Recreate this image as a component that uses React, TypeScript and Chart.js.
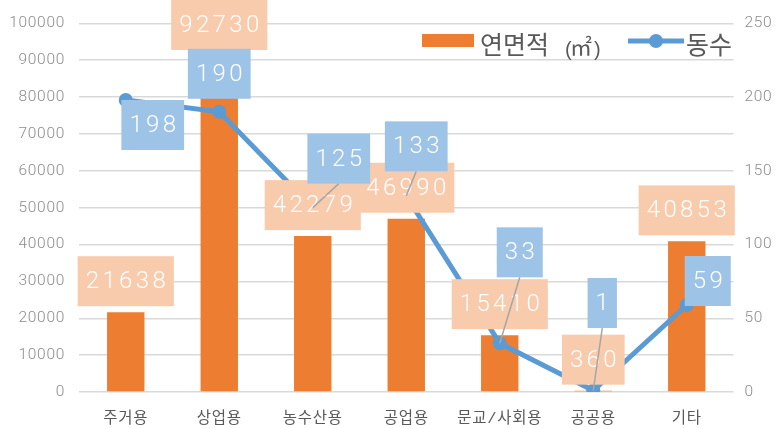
import React, { useEffect, useRef } from "react";
import { Chart, registerables } from "chart.js";

Chart.register(...registerables);

const categories = ["주거용", "상업용", "농수산용", "공업용", "문교/사회용", "공공용", "기타"];
const floorArea = [21638, 92730, 42279, 46990, 15410, 360, 40853];
const buildingCount = [198, 190, 125, 133, 33, 1, 59];
const areaLabel = "연면적";
const areaUnit = "㎡";
const countLabel = "동수";

// label box offsets (px) from each line point, and whether a leader line is drawn
const countLabelOffsets = [
  [27, 25],
  [0, -38],
  [26, -49],
  [10, -49.5],
  [20, -91],
  [9, -87.5],
  [21, -24],
];
const countLeaders = [false, false, true, true, true, true, false];

const ORANGE = "#ED7D31";
const BLUE = "#5B9BD5";
const ORANGE_LIGHT = "#F8CBAD";
const BLUE_LIGHT = "#9DC3E6";
const NUM = "Roboto, 'Noto Sans CJK KR'";
const KR = "'Noto Sans CJK KR', 'Noto Sans'";
const LABEL_SPACING = 3.4;

const labelPlugin = {
  id: "customLabels",
  beforeDraw(chart: any) {
    (chart.ctx as any).letterSpacing = "0.7px";
  },
  beforeDatasetsDraw(chart: any) {
    (chart.ctx as any).letterSpacing = "0px";
  },
  afterDatasetsDraw(chart: any) {
    const ctx = chart.ctx as CanvasRenderingContext2D;
    const barMeta = chart.getDatasetMeta(0);
    const lineMeta = chart.getDatasetMeta(1);
    const h = 50;
    ctx.save();
    ctx.font = `300 24px ${NUM}`;
    (ctx as any).letterSpacing = LABEL_SPACING + "px";
    ctx.textAlign = "center";
    ctx.textBaseline = "middle";
    const boxW = (t: string) => ctx.measureText(t).width - LABEL_SPACING + 16;
    // bar labels
    barMeta.data.forEach((el: any, i: number) => {
      const text = String(floorArea[i]);
      const w = boxW(text);
      let cy = el.y - 6 - h / 2;
      if (cy - h / 2 < 0) cy = h / 2;
      ctx.fillStyle = ORANGE_LIGHT;
      ctx.fillRect(el.x - w / 2, cy - h / 2, w, h);
      ctx.fillStyle = "#FFFFFF";
      ctx.fillText(text, el.x + LABEL_SPACING / 2, cy + 1);
    });
    // leader lines
    ctx.strokeStyle = "#A6A6A6";
    ctx.lineWidth = 1.5;
    lineMeta.data.forEach((el: any, i: number) => {
      if (!countLeaders[i]) return;
      const [dx, dy] = countLabelOffsets[i];
      ctx.beginPath();
      ctx.moveTo(el.x + dx, el.y + dy + h / 2);
      ctx.lineTo(el.x, el.y);
      ctx.stroke();
    });
    // line labels
    lineMeta.data.forEach((el: any, i: number) => {
      const text = String(buildingCount[i]);
      const w = boxW(text);
      const [dx, dy] = countLabelOffsets[i];
      const cx = el.x + dx;
      const cy = el.y + dy;
      ctx.fillStyle = BLUE_LIGHT;
      ctx.fillRect(cx - w / 2, cy - h / 2, w, h);
      ctx.fillStyle = "#FFFFFF";
      ctx.fillText(text, cx + LABEL_SPACING / 2, cy + 1);
    });
    ctx.restore();
  },
  afterDraw(chart: any) {
    const ctx = chart.ctx as CanvasRenderingContext2D;
    ctx.save();
    (ctx as any).letterSpacing = "0px";
    // legend: bar
    ctx.fillStyle = ORANGE;
    ctx.fillRect(422, 34, 52, 13);
    ctx.fillStyle = "#595959";
    ctx.textBaseline = "alphabetic";
    ctx.textAlign = "left";
    ctx.font = `25px ${KR}`;
    ctx.fillText(areaLabel, 480, 54);
    ctx.font = `20px 'Liberation Sans'`;
    ctx.fillText("(", 565, 56);
    ctx.font = `22px ${KR}`;
    ctx.fillText(areaUnit, 570, 55);
    ctx.font = `20px 'Liberation Sans'`;
    ctx.fillText(")", 594, 56);
    // legend: line
    ctx.strokeStyle = BLUE;
    ctx.lineWidth = 5;
    ctx.beginPath();
    ctx.moveTo(628, 41);
    ctx.lineTo(684, 41);
    ctx.stroke();
    ctx.fillStyle = BLUE;
    ctx.beginPath();
    ctx.arc(656, 41, 7, 0, Math.PI * 2);
    ctx.fill();
    ctx.fillStyle = "#595959";
    ctx.font = `25px ${KR}`;
    ctx.fillText(countLabel, 686, 54);
    ctx.restore();
  },
};

export default function App() {
  const ref = useRef<HTMLCanvasElement | null>(null);
  useEffect(() => {
    if (!ref.current) return;
    const chart = new Chart(ref.current, {
      type: "bar",
      data: {
        labels: categories,
        datasets: [
          {
            type: "bar",
            label: areaLabel + " (" + areaUnit + ")",
            data: floorArea,
            backgroundColor: ORANGE,
            yAxisID: "y",
            barPercentage: 0.4,
            categoryPercentage: 1,
            order: 1,
          },
          {
            type: "line",
            label: countLabel,
            data: buildingCount,
            borderColor: BLUE,
            backgroundColor: BLUE,
            borderWidth: 5,
            pointRadius: 6,
            pointBorderWidth: 2,
            pointBackgroundColor: BLUE,
            pointBorderColor: BLUE,
            tension: 0,
            yAxisID: "y1",
            order: 0,
          } as any,
        ],
      },
      options: {
        animation: false,
        responsive: true,
        maintainAspectRatio: false,
        layout: { padding: { top: 20, left: 0, right: 0, bottom: 0 } },
        plugins: { legend: { display: false }, tooltip: { enabled: false } },
        scales: {
          x: {
            grid: { display: false },
            border: { display: false },
            ticks: { color: "#595959", font: { family: "'Liberation Mono', " + KR, size: 15.5 }, padding: 10 },
            afterFit(s: any) {
              s.height = 37;
            },
          },
          y: {
            position: "left",
            min: 0,
            max: 100000,
            ticks: {
              stepSize: 10000,
              color: "#8C8C8C",
              font: { family: NUM, size: 15.5, weight: "300" as any },
              padding: 14,
              callback: (v: any) => String(v),
            },
            grid: { color: "#D9D9D9", lineWidth: 1.5, drawTicks: false },
            border: { display: false },
            afterFit(s: any) {
              s.width = 79;
            },
          },
          y1: {
            position: "right",
            min: 0,
            max: 250,
            ticks: {
              stepSize: 50,
              color: "#8C8C8C",
              font: { family: NUM, size: 15.5, weight: "300" as any },
              padding: 11,
              callback: (v: any) => String(v),
            },
            grid: { display: false, drawTicks: false },
            border: { display: false },
            afterFit(s: any) {
              s.width = 45.5;
            },
          },
        },
      },
      plugins: [labelPlugin],
    });
    return () => chart.destroy();
  }, []);
  return (
    <div style={{ position: "fixed", left: 0, top: 0, width: 779, height: 429, background: "#fff" }}>
      <canvas ref={ref} />
    </div>
  );
}
